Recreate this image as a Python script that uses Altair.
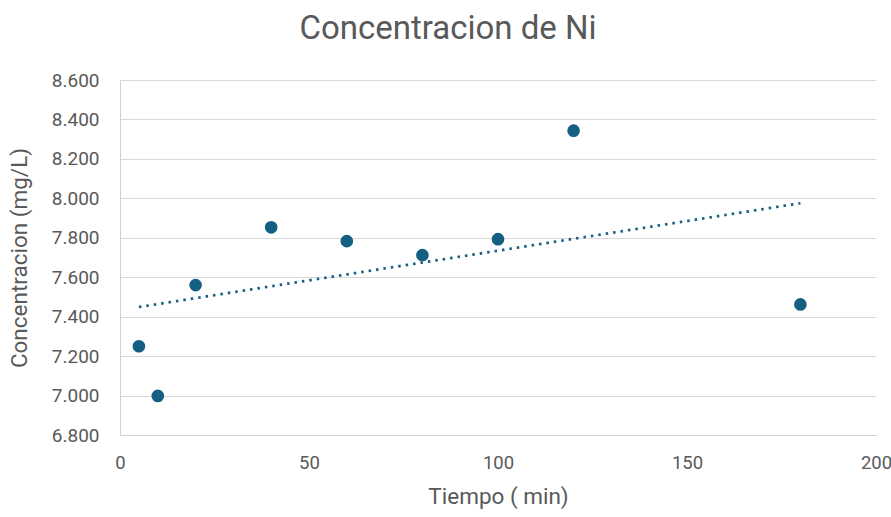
import altair as alt
import pandas as pd

# Sampling times (min) and measured Ni concentration (mg/L)
tiempo = [5, 10, 20, 40, 60, 80, 100, 120, 180]
concentracion = [7.250, 6.998, 7.560, 7.853, 7.783, 7.712, 7.793, 8.343, 7.462]
x_ticks = [0, 50, 100, 150, 200]
y_ticks = [6.8, 7.0, 7.2, 7.4, 7.6, 7.8, 8.0, 8.2, 8.4, 8.6]

df = pd.DataFrame({"tiempo": tiempo, "conc": concentracion})

COLOR = "#156082"
TEXT = "#595959"
FONT = "Roboto"

x_enc = alt.X(
    "tiempo:Q",
    scale=alt.Scale(domain=[0, 200], nice=False),
    axis=alt.Axis(
        title="Tiempo ( min)",
        values=x_ticks,
        grid=False,
        ticks=False,
        domainColor="#d0d0d0",
        labelFontSize=18.5,
        labelPadding=18,
        titlePadding=14,
        labelFlush=False,
        labelOverlap=False,
    ),
)
y_enc = alt.Y(
    "conc:Q",
    scale=alt.Scale(domain=[6.8, 8.6], nice=False, zero=False),
    axis=alt.Axis(
        title="Concentracion (mg/L)",
        values=y_ticks,
        format=".3f",
        ticks=False,
        grid=True,
        gridColor="#d9d9d9",
        domainColor="#d0d0d0",
        labelFontSize=19,
        labelPadding=21,
        titlePadding=20,
        labelFlush=False,
        labelOverlap=False,
    ),
)

base = alt.Chart(df).encode(x=x_enc, y=y_enc)

points = base.mark_circle(size=160, color=COLOR, opacity=1)

# Linear trend line over the sampled time range
trend = base.transform_regression("tiempo", "conc", method="linear").mark_line(
    color=COLOR, strokeWidth=2.7, strokeDash=[2.5, 5]
)

chart = (
    alt.layer(points, trend)
    .properties(
        width=756,
        height=355,
        autosize=alt.AutoSizeParams(type="none"),
        padding={"left": 120, "top": 80, "right": 15, "bottom": 82},
        title=alt.TitleParams(
            "Concentracion de Ni",
            fontSize=33,
            font=FONT,
            fontWeight="normal",
            color=TEXT,
            anchor="middle",
            dx=-50,
            offset=25,
        ),
    )
    .configure_view(stroke=None)
    .configure_axis(
        labelFont=FONT,
        titleFont=FONT,
        titleFontSize=22.5,
        labelColor=TEXT,
        titleColor=TEXT,
        titleFontWeight="normal",
    )
)

chart.save("out.html", embed_options={"renderer": "svg", "actions": False})
